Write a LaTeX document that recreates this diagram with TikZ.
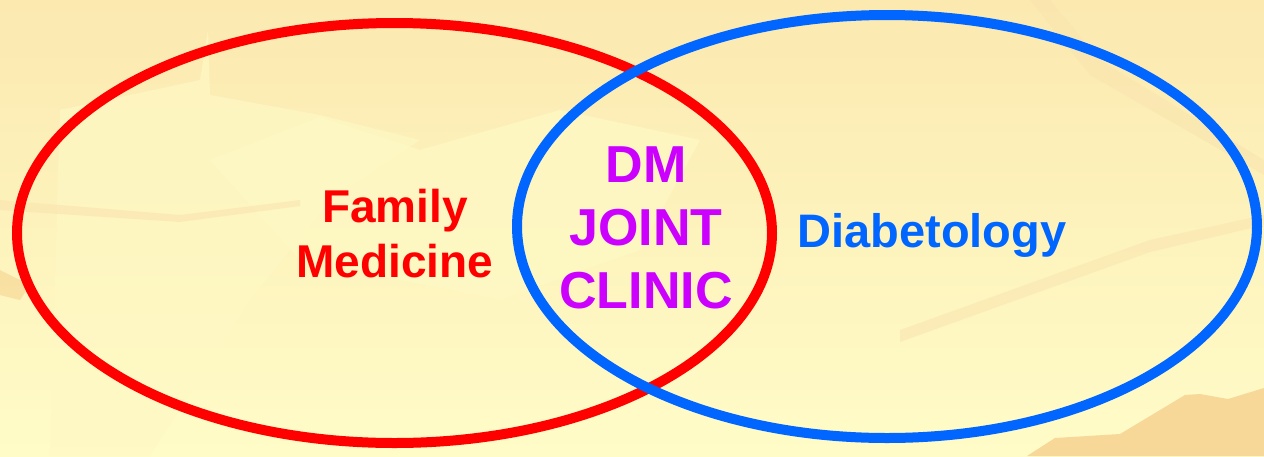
\documentclass[tikz,border=0pt]{standalone}
\usepackage{fontspec}
\setmainfont{Liberation Sans}
\definecolor{bgtop}{HTML}{FBE9B0}
\definecolor{bgbot}{HTML}{FFFCC8}
\definecolor{patch}{HTML}{FEF8C4}
\definecolor{tan}{HTML}{F7D898}
\definecolor{tanlight}{HTML}{FAE3AE}
\definecolor{setred}{HTML}{FF0000}
\definecolor{setblue}{HTML}{0066FF}
\definecolor{setpurple}{HTML}{CC00FF}
\begin{document}
\begin{tikzpicture}[x=1pt,y=-1pt,
  setring/.style={line width=10pt},
  redlabel/.style={text=setred,font=\bfseries\fontsize{46}{55}\selectfont,anchor=base,inner sep=0pt},
  bluelabel/.style={text=setblue,font=\bfseries\fontsize{47}{56}\selectfont,anchor=base,inner sep=0pt},
  purplelabel/.style={text=setpurple,font=\bfseries\fontsize{52}{63}\selectfont,anchor=base,inner sep=0pt}]
\useasboundingbox (0,0) rectangle (1264,456);
% background
\shade[top color=bgtop,bottom color=bgbot] (0,0) rectangle (1264,456);
\fill[patch,opacity=0.7] (50,456) -- (60,110) -- (200,80) -- (208,30) -- (210,95) -- (320,115) -- (420,140) -- (330,200) -- (250,300) -- (150,456) -- cycle;
\fill[patch,opacity=0.8] (210,160) -- (320,117) -- (420,150) -- (560,110) -- (700,140) -- (640,250) -- (500,300) -- (300,260) -- cycle;
\fill[tanlight,opacity=0.6] (0,200) -- (180,215) -- (300,200) -- (300,206) -- (180,222) -- (0,210) -- cycle;
\fill[tanlight,opacity=0.5] (1050,0) -- (1100,60) -- (1264,160) -- (1264,175) -- (1090,75) -- (1030,0) -- cycle;
\fill[tanlight,opacity=0.5] (900,330) -- (1150,240) -- (1264,215) -- (1264,225) -- (1150,252) -- (900,342) -- cycle;
\fill[tan] (1027,456) -- (1055,438) -- (1120,434) -- (1185,395) -- (1200,394) -- (1228,399) -- (1264,388) -- (1264,456) -- cycle;
\fill[tan,opacity=0.7] (0,270) -- (30,285) -- (20,300) -- (0,295) -- cycle;
% sets
\draw[setring,setred] (394.5,233) ellipse [x radius=377.5, y radius=210];
\draw[setring,setblue] (887,226.5) ellipse [x radius=370, y radius=211.5];
% labels
\node[redlabel] (fam) at (395,222) {Family};
\node[redlabel] (med) at (395,277) {Medicine};
\node[purplelabel] (dm) at (646,182) {DM};
\node[purplelabel] (joint) at (646,245) {JOINT};
\node[purplelabel] (clinic) at (646,308) {CLINIC};
\node[bluelabel] (diab) at (932,247) {Diabetology};
\end{tikzpicture}
\end{document}
